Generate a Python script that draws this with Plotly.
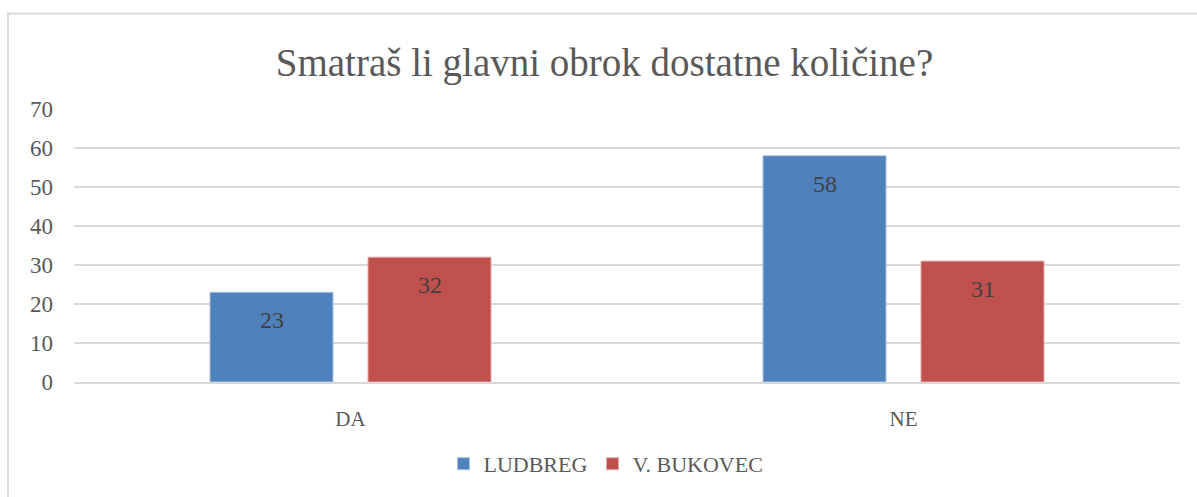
import plotly.graph_objects as go

categories = ["DA", "NE"]
series_names = ["LUDBREG", "V. BUKOVEC"]
ludbreg = [23, 58]
bukovec = [32, 31]
y_ticks = [0, 10, 20, 30, 40, 50, 60, 70]

colors = ["#4F81BD", "#C0504D"]
line_colors = ["#A7C0DE", "#E0A9A7"]
FONT = "Liberation Serif"

fig = go.Figure()
for name, vals, c, lc in zip(series_names, [ludbreg, bukovec], colors, line_colors):
    fig.add_trace(go.Bar(
        x=categories, y=vals, name=name,
        marker=dict(color=c, line=dict(color=lc, width=1)),
        hoverinfo="skip",
    ))

# data labels placed inside, near top of bars
offsets = [-79, 79]
for vals, dx in zip([ludbreg, bukovec], offsets):
    for cat, v in zip(categories, vals):
        fig.add_annotation(
            x=cat, y=v, xref="x", yref="y", text=str(v), showarrow=False,
            xshift=dx, yshift=-28, yanchor="middle",
            font=dict(family=FONT, size=24, color="#404040"),
        )

fig.update_layout(
    width=1197, height=497,
    margin=dict(l=74, r=17, t=109, b=112),
    paper_bgcolor="white", plot_bgcolor="white",
    barmode="group", bargap=0.4286, bargroupgap=0.2215,
    title=dict(text="Smatraš li glavni obrok dostatne količine?",
               x=0.505, xanchor="center", y=0.875, yanchor="middle",
               font=dict(family=FONT, size=39, color="#595959")),
    font=dict(family=FONT, color="#595959"),
    showlegend=True,
    legend=dict(orientation="h", x=0.481, xanchor="center", y=-0.3, yanchor="middle",
                font=dict(family=FONT, size=22, color="#595959"),
                itemwidth=30, traceorder="normal"),
    shapes=[dict(type="rect", xref="paper", yref="paper", layer="below",
                 x0=-66/1106, x1=1.1, y0=-0.5, y1=1 + (109 - 12.5) / 276,
                 line=dict(color="#D9D9D9", width=2), fillcolor="rgba(0,0,0,0)")],
)
fig.update_yaxes(range=[0, 70], tickvals=y_ticks, showgrid=True, gridcolor="#D9D9D9",
                 gridwidth=2, zeroline=False, showline=False, ticks="",
                 tickfont=dict(family=FONT, size=23, color="#595959"),
                 ticklabelstandoff=20)
fig.update_xaxes(showgrid=False, showline=True, linecolor="#D9D9D9", linewidth=2,
                 ticks="", tickfont=dict(family=FONT, size=21, color="#595959"),
                 ticklabelstandoff=17)

fig.write_html("out.html", config={"displayModeBar": False},
               post_script="document.body.style.margin='0';document.body.style.padding='0';")
